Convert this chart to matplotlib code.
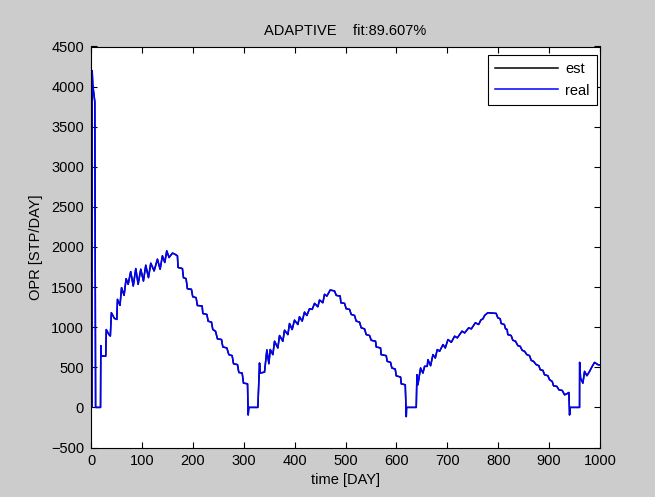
import matplotlib
matplotlib.use("Agg")
import matplotlib.pyplot as plt

plt.rcParams['font.family'] = ['Liberation Sans', 'DejaVu Sans']
plt.rcParams['font.size'] = 10.5

# Data #########################################################################
title_text = "ADAPTIVE    fit:89.607%"

days = [0, 2, 2.3, 3.5, 7.5, 9, 18.7, 19.3, 20.3, 29, 30, 35, 38, 40, 46, 50.7,
        52, 57, 60, 65, 69, 73, 78, 83, 88, 92.6, 97.8, 103, 107.6, 112.9,
        117.4, 124, 130.5, 135.8, 140.3, 145, 148.8, 153.4, 160, 164.6, 169.8,
        171, 179.6, 181.6, 186.8, 189.4, 197.3, 199.9, 206.5, 209, 218.4, 219.7,
        227.6, 230.2, 236.7, 239.3, 244.6, 248.5, 256.4, 259, 266.9, 270.8,
        277.3, 280, 287.8, 290.4, 297, 299.6, 307.5, 308.8, 310.1, 327.8, 331.1,
        332.4, 340.9, 345.5, 349.5, 352.1, 357.3, 360.6, 367.1, 370.4, 376.9,
        380.2, 386.8, 390, 395.2, 399.8, 406.4, 409.6, 414.9, 419.5, 424.1,
        429.3, 434.6, 439.2, 445.7, 449, 455.5, 458.8, 463.4, 470, 478.5, 481.8,
        489.6, 490.9, 498.1, 501.4, 508, 511.2, 517.8, 521, 527.6, 530.9, 537.4,
        540.7, 547.3, 550.5, 559, 560.4, 568.8, 570.1, 580, 582, 588.5, 591.1,
        597.7, 599.7, 608.2, 609.5, 617.4, 619.4, 620, 639, 640.3, 642.2, 647.5,
        652.1, 655.4, 660.6, 661.9, 667.2, 671.8, 676.4, 680.3, 684.9, 691.5,
        696, 701.3, 707.9, 714.4, 719.7, 728.8, 734.1, 742, 747.2, 755.1, 761.6,
        766, 770.1, 773.4, 779.6, 796, 799.3, 803.9, 805.8, 812, 814.4, 817.5,
        818.9, 825.5, 828.7, 834, 838.6, 843.2, 847.1, 851.7, 856.3, 861.6,
        864.8, 869.4, 874.7, 879.9, 882.5, 887.8, 891, 897.6, 900.9, 906.1,
        908.7, 915.3, 919.2, 925.8, 930.4, 935, 938.9, 940.2, 941.5, 959.8, 960,
        961.8, 966.4, 969.7, 974.3, 979.5, 984.7, 989.3, 995.9, 1000]

opr_real = [0, 0, 4200, 4020, 3810, 0, 0, 770, 640, 640, 970, 910, 890, 1180,
            1110, 1097, 1347, 1272, 1493, 1397, 1605, 1535, 1693, 1514, 1731,
            1535, 1723, 1576, 1773, 1618, 1798, 1702, 1848, 1723, 1890, 1807,
            1952, 1869, 1924, 1911, 1890, 1745, 1731, 1618, 1605, 1480, 1472,
            1380, 1368, 1271, 1264, 1171, 1159, 1075, 1063, 971, 950, 854, 846,
            754, 741, 658, 645, 545, 533, 436, 428, 303, 294, -94, 0, 0, 553,
            428, 440, 717, 545, 722, 658, 825, 741, 896, 825, 962, 908, 1046,
            971, 1088, 1034, 1130, 1076, 1188, 1146, 1230, 1222, 1297, 1255,
            1339, 1305, 1410, 1388, 1464, 1451, 1397, 1388, 1305, 1297, 1230,
            1222, 1159, 1146, 1076, 1063, 992, 979, 908, 896, 837, 825, 754, 741,
            658, 645, 574, 562, 491, 478, 394, 378, 294, 282, -115, 0, 0, 407,
            282, 491, 428, 512, 512, 595, 520, 658, 616, 721, 700, 783, 741, 846,
            812, 888, 867, 950, 929, 992, 979, 1055, 1034, 1090, 1105, 1147,
            1180, 1172, 1117, 1105, 1046, 1034, 980, 972, 908, 896, 837, 825,
            770, 762, 712, 700, 658, 645, 587, 574, 533, 520, 470, 462, 407, 395,
            345, 324, 270, 262, 220, 211, 157, 170, 186, -94, 0, 0, 561, 365,
            303, 449, 395, 449, 512, 561, 533, 530]

# estimate lies on top of the measured rate in the reference
opr_est = list(opr_real)

x_ticks = [0, 100, 200, 300, 400, 500, 600, 700, 800, 900, 1000]
y_ticks = [-500, 0, 500, 1000, 1500, 2000, 2500, 3000, 3500, 4000, 4500]

# Plot #########################################################################
fig = plt.figure(figsize=(6.55, 4.97), dpi=100, facecolor='#cccccc')
ax = fig.add_axes([91/655, 1 - 447.5/497, 509/655, 401/497])
ax.set_facecolor('white')

ax.plot(days, opr_est, color='black', linewidth=1.1, label='est')
ax.plot(days, opr_real, color='blue', linewidth=1.1, label='real')

ax.set_xlim(0, 1000)
ax.set_ylim(-500, 4500)
ax.set_xticks(x_ticks)
ax.set_yticks(y_ticks)
ax.tick_params(direction='in', length=4, width=0.8, top=True, right=True,
               labelsize=10.5, pad=5)
for s in ax.spines.values():
    s.set_linewidth(0.8)

ax.set_title(title_text, fontsize=10.5, pad=8)
ax.set_xlabel('time [DAY]', fontsize=10.5, labelpad=3)
ax.set_ylabel('OPR [STP/DAY]', fontsize=10.5, labelpad=6)

leg = ax.legend(loc='upper right', bbox_to_anchor=(0.994, 0.979),
                fancybox=False, edgecolor='black', framealpha=1,
                handlelength=4.3, borderaxespad=0, fontsize=10.5,
                labelspacing=0.5, handletextpad=0.5, borderpad=0.5)
leg.get_frame().set_linewidth(0.8)

fig.savefig('out.png', dpi=100, facecolor=fig.get_facecolor())
